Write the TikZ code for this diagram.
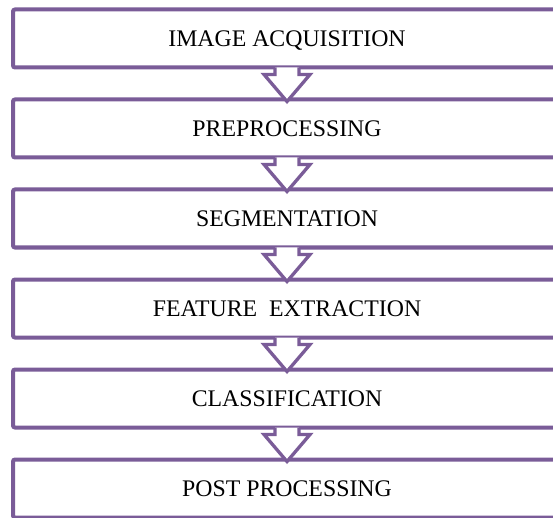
\documentclass[tikz,border=0pt]{standalone}
\usepackage{fontspec}
\setmainfont{Liberation Serif}
\usetikzlibrary{positioning}
\definecolor{stageline}{HTML}{7A5C98}

\begin{document}
\begin{tikzpicture}[node distance=32pt,
  every node/.style={font=\fontsize{23.8}{28}\selectfont},
  stagebox/.style={draw=stageline,line width=4pt,rounded corners=2pt,minimum width=548pt,minimum height=58pt,outer sep=0pt,inner sep=0pt,text height=15.7pt,text depth=0pt},
  stagearrow/.style={draw=stageline,fill=white,line width=3.3pt,line join=miter}]

\useasboundingbox (0,0) rectangle (553pt,-518pt);

\node[stagebox] (acq) at (287pt,-38.5pt) {IMAGE ACQUISITION};
\node[stagebox,below=of acq] (pre) {PREPROCESSING};
\node[stagebox,below=of pre] (seg) {SEGMENTATION};
\node[stagebox,below=of seg] (feat) {FEATURE\ \ EXTRACTION};
\node[stagebox,below=of feat] (cls) {CLASSIFICATION};
\node[stagebox,below=of cls] (post) {POST PROCESSING};

\draw[stagearrow] ([xshift=-12pt]acq.south) -- ++(0,-7pt) -- ++(-11pt,0) -- ([yshift=-2pt]pre.north) -- ++(23pt,27pt) -- ++(-11pt,0) -- ++(0,7pt);
\draw[stagearrow] ([xshift=-12pt]pre.south) -- ++(0,-7pt) -- ++(-11pt,0) -- ([yshift=-2pt]seg.north) -- ++(23pt,27pt) -- ++(-11pt,0) -- ++(0,7pt);
\draw[stagearrow] ([xshift=-12pt]seg.south) -- ++(0,-7pt) -- ++(-11pt,0) -- ([yshift=-2pt]feat.north) -- ++(23pt,27pt) -- ++(-11pt,0) -- ++(0,7pt);
\draw[stagearrow] ([xshift=-12pt]feat.south) -- ++(0,-7pt) -- ++(-11pt,0) -- ([yshift=-2pt]cls.north) -- ++(23pt,27pt) -- ++(-11pt,0) -- ++(0,7pt);
\draw[stagearrow] ([xshift=-12pt]cls.south) -- ++(0,-7pt) -- ++(-11pt,0) -- ([yshift=-2pt]post.north) -- ++(23pt,27pt) -- ++(-11pt,0) -- ++(0,7pt);

\end{tikzpicture}
\end{document}
